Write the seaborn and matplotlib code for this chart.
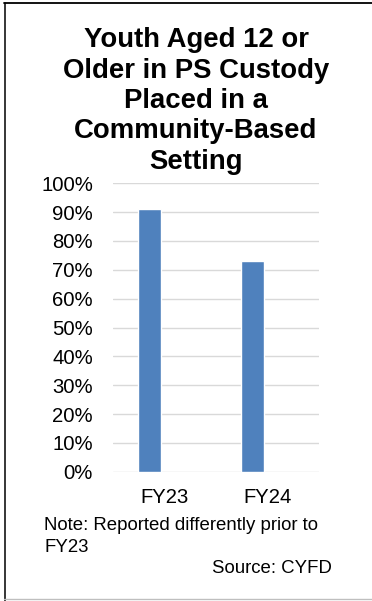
import matplotlib
matplotlib.use("Agg")
import matplotlib.pyplot as plt
from matplotlib.lines import Line2D
from matplotlib.ticker import PercentFormatter
import pandas as pd
import seaborn as sns

# Share of youth aged 12+ in PS custody placed in a community-based setting
years = ["FY23", "FY24"]
share = [0.91, 0.73]
series_levels = ["Community-based", "Other"]
title_lines = [
    "Youth Aged 12 or",
    "Older in PS Custody",
    "Placed in a",
    "Community-Based",
    "Setting",
]
note_lines = ["Note: Reported differently prior to", "FY23"]
source_text = "Source: CYFD"
y_ticks = [i / 10 for i in range(11)]

BLUE = "#4F81BD"
GRID = "#D9D9D9"
W, H, DPI = 372, 601, 100

sns.set_theme(style="white")
plt.rcParams["font.family"] = ["Liberation Sans", "DejaVu Sans"]

df = pd.DataFrame({"year": years, "share": share, "series": series_levels[0]})

fig = plt.figure(figsize=(W / DPI, H / DPI), dpi=DPI)
fig.patch.set_facecolor("white")


def px_x(x):
    return x / W


def px_y(y):
    return 1 - y / H


ax = fig.add_axes([px_x(113), px_y(471.7), (319 - 113) / W, (471.7 - 183.3) / H])

# Clustered layout with an empty second series slot, so each bar sits left of its category
sns.barplot(
    data=df, x="year", y="share", hue="series", hue_order=series_levels,
    palette={series_levels[0]: BLUE, series_levels[1]: BLUE},
    width=0.572, gap=0.217, dodge=True, saturation=1, legend=False, ax=ax,
)

ax.set_xlim(-0.5, 1.5)
ax.set_ylim(0, 1)
ax.set_yticks(y_ticks)
ax.yaxis.set_major_formatter(PercentFormatter(1.0, decimals=0))
ax.set_axisbelow(True)
ax.grid(axis="y", color=GRID, linewidth=1.0)
ax.grid(axis="x", visible=False)
for s in ax.spines.values():
    s.set_visible(False)
ax.set_xlabel("")
ax.set_ylabel("")
ax.tick_params(axis="y", length=0, pad=14.4, labelsize=14.6, labelcolor="black")
ax.tick_params(axis="x", length=0, pad=12, labelsize=14.6, labelcolor="black")
ax.set_facecolor("white")

# Title, one line at a time
baselines = [47, 77.5, 108, 138.5, 169]
for line, yb in zip(title_lines, baselines):
    fig.text(px_x(196), px_y(yb), line, ha="center", va="baseline",
             fontsize=19.8, fontweight="bold", color="black")

# Footnote and source
fig.text(px_x(44), px_y(530), note_lines[0], ha="left", va="baseline", fontsize=13.4, color="black")
fig.text(px_x(44), px_y(552), note_lines[1], ha="left", va="baseline", fontsize=13.4, color="black")
fig.text(px_x(332), px_y(573), source_text, ha="right", va="baseline", fontsize=13.4, color="black")

# Frame around the chart
fig.add_artist(Line2D([px_x(4.5), px_x(4.5)], [px_y(3), px_y(601)], color="black", linewidth=1.1))
fig.add_artist(Line2D([px_x(4), px_x(372)], [px_y(3), px_y(3)], color="black", linewidth=1.3))
fig.add_artist(Line2D([px_x(4), px_x(372)], [px_y(599), px_y(599)], color="#BFBFBF", linewidth=1.0))

fig.savefig("out.png", dpi=DPI)
